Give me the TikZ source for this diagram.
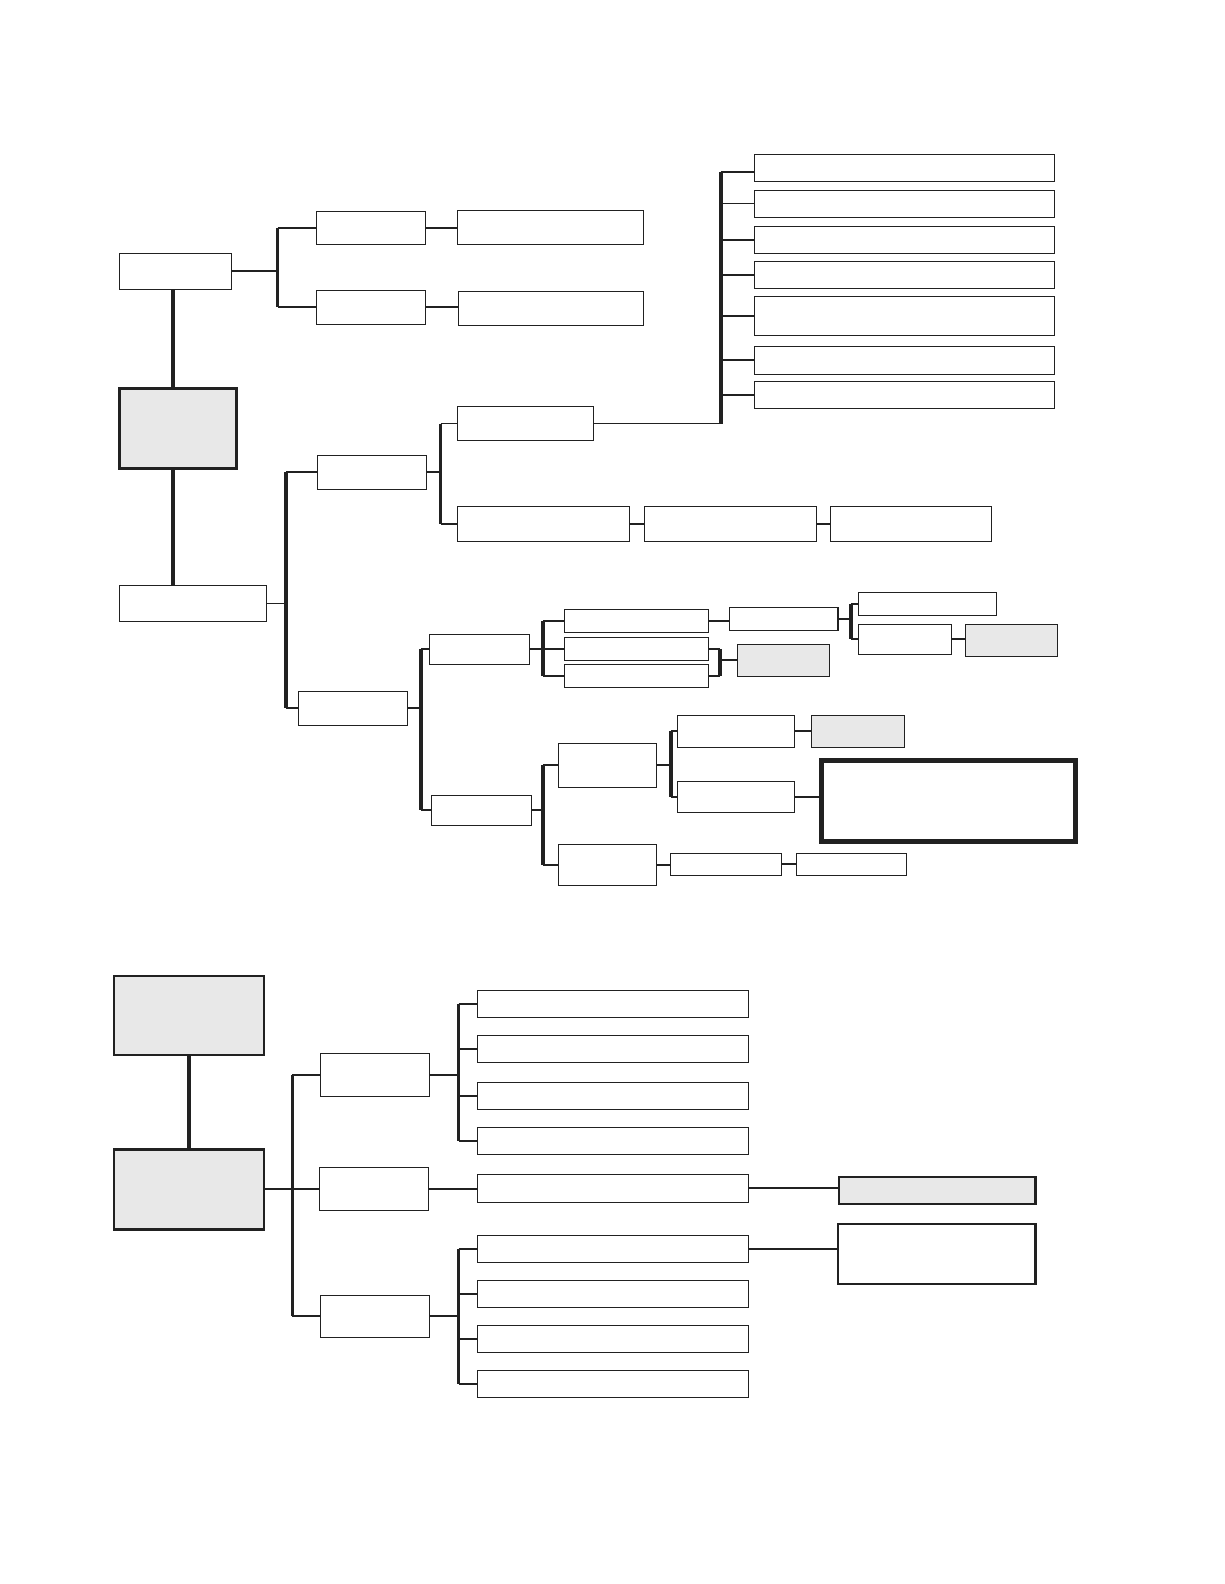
\documentclass[tikz,border=0pt]{standalone}
\usepackage{xcolor}
\usepackage{tikz}
\definecolor{chartink}{gray}{0.13}
\definecolor{chartshade}{gray}{0.91}
\tikzset{
  boxsize/.style 2 args={minimum width=#1pt, minimum height=#2pt},
  chartbox/.style={draw=chartink, fill=white, line width=1.1pt,
    inner sep=0pt},
  chartfill/.style={chartbox, fill=chartshade},
  chartkey/.style={chartbox, fill=chartshade, line width=2.8pt},
  chartframe/.style={chartbox, line width=2.4pt},
  chartlink/.style={draw=chartink, line width=1.8pt},
  chartspine/.style={draw=chartink, line width=3.6pt}
}
\begin{document}
\begin{tikzpicture}[x=1pt, y=-1pt]
  \useasboundingbox (0,0) rectangle (1224,1584);

  % upper chart
  \node[chartbox, boxsize={112}{36}] (A1) at (175.7,271.3) {};
  \node[chartkey, boxsize={117}{80}] (G1) at (178,428.4) {};
  \node[chartbox, boxsize={147}{36}] (A2) at (193,603.5) {};

  \node[chartbox, boxsize={109}{33}] (B1) at (371,227.6) {};
  \node[chartbox, boxsize={186}{34}] (C1) at (550.5,227.3) {};
  \node[chartbox, boxsize={109}{34}] (B2) at (371,307.3) {};
  \node[chartbox, boxsize={185}{34}] (C2) at (551,308.3) {};

  \node[chartbox, boxsize={109}{34}] (D1) at (372,472.3) {};
  \node[chartbox, boxsize={109.5}{34}] (D2) at (353,708.3) {};

  \node[chartbox, boxsize={136}{34}] (E1) at (525.5,423.5) {};
  \node[chartbox, boxsize={172}{35}] (E2) at (543.5,524) {};
  \node[chartbox, boxsize={172}{35}] (F8) at (730.5,524) {};
  \node[chartbox, boxsize={161}{35}] (F9) at (910.9,524) {};

  \node[chartbox, boxsize={300}{27}] (F1) at (904.3,167.8) {};
  \node[chartbox, boxsize={300}{27}] (F2) at (904.3,203.8) {};
  \node[chartbox, boxsize={300}{27}] (F3) at (904.3,239.8) {};
  \node[chartbox, boxsize={300}{27}] (F4) at (904.3,274.8) {};
  \node[chartbox, boxsize={300}{39}] (F5) at (904.3,315.8) {};
  \node[chartbox, boxsize={300}{28}] (F6) at (904.3,360.3) {};
  \node[chartbox, boxsize={300}{27}] (F7) at (904.3,394.7) {};

  \node[chartbox, boxsize={100.5}{30}] (H1) at (479.3,649.3) {};
  \node[chartbox, boxsize={100}{30}] (H2) at (481.3,810.3) {};

  \node[chartbox, boxsize={144}{23}] (I1) at (636.3,620.8) {};
  \node[chartbox, boxsize={144}{23}] (I2) at (636.3,648.8) {};
  \node[chartbox, boxsize={144}{23}] (I3) at (636.3,675.8) {};
  \node[chartbox, boxsize={108.4}{23}] (J1) at (783.8,618.8) {};
  \node[chartbox, boxsize={138}{23}] (K1) at (927.3,603.8) {};
  \node[chartbox, boxsize={93}{30}] (K2) at (905,639.3) {};
  \node[chartfill, boxsize={92}{32}] (L1) at (1011.5,640.3) {};
  \node[chartfill, boxsize={92}{32}] (M1) at (783.4,660.3) {};

  \node[chartbox, boxsize={98}{44}] (P1) at (607.3,765.3) {};
  \node[chartbox, boxsize={98}{41}] (P2) at (607.3,864.8) {};
  \node[chartbox, boxsize={117.5}{32}] (Q1) at (735.9,731.3) {};
  \node[chartbox, boxsize={117.5}{31}] (Q2) at (735.9,796.8) {};
  \node[chartfill, boxsize={93}{32}] (R1) at (857.7,731.3) {};
  \node[chartbox, line width=4.5pt, boxsize={253.7}{81}] (S1)
    at (948.4,801.2) {};
  \node[chartbox, boxsize={111}{22}] (T1) at (726.1,864.3) {};
  \node[chartbox, boxsize={110}{22}] (T2) at (851.5,864.3) {};

  \coordinate (trunk) at ([xshift=-2.5pt]A1.south);
  \draw[chartspine] (trunk) -- (trunk |- G1.north);
  \draw[chartspine] (trunk |- G1.south) -- (trunk |- A2.north);

  \coordinate (sa1) at (277.5,0);
  \draw[chartlink] (A1.east) -- (A1.east -| sa1);
  \draw[chartspine] (sa1 |- B1.west) -- (sa1 |- B2.west);
  \foreach \n in {B1,B2} \draw[chartlink] (sa1 |- \n.west) -- (\n.west);
  \draw[chartlink] (B1.east) -- (B1.east -| C1.west);
  \draw[chartlink] (B2.east) -- (B2.east -| C2.west);

  \coordinate (sa2) at (286,0);
  \draw[chartlink] (A2.east) -- (A2.east -| sa2);
  \draw[chartspine] (sa2 |- D1.west) -- (sa2 |- D2.west);
  \foreach \n in {D1,D2} \draw[chartlink] (sa2 |- \n.west) -- (\n.west);

  \coordinate (sd1) at (440.5,0);
  \draw[chartlink] (D1.east) -- (D1.east -| sd1);
  \draw[chartspine] (sd1 |- E1.west) -- (sd1 |- E2.west);
  \foreach \n in {E1,E2} \draw[chartlink] (sd1 |- \n.west) -- (\n.west);
  \draw[chartlink] (E2.east) -- (E2.east -| F8.west);
  \draw[chartlink] (F8.east) -- (F8.east -| F9.west);

  \coordinate (se1) at (720.7,0);
  \coordinate (f1in) at ([yshift=-4pt]F1.west);
  \draw[chartlink] (E1.east) -- (E1.east -| se1);
  \draw[chartspine] (se1 |- f1in) -- (se1 |- E1.east);
  \draw[chartlink] (se1 |- f1in) -- (f1in);
  \foreach \n in {F3,F4,F5,F6,F7}
    \draw[chartlink] (se1 |- \n.west) -- (\n.west);
  \draw[chartlink, line width=0.9pt] (se1 |- F2.west) -- (F2.west);

  \coordinate (sd2) at (421,0);
  \draw[chartlink] (D2.east) -- (D2.east -| sd2);
  \draw[chartspine] (sd2 |- H1.west) -- (sd2 |- H2.west);
  \foreach \n in {H1,H2} \draw[chartlink] (sd2 |- \n.west) -- (\n.west);

  \coordinate (sh1) at (543.1,0);
  \draw[chartlink] (H1.east) -- (H1.east -| sh1);
  \draw[chartspine] (sh1 |- I1.west) -- (sh1 |- I3.west);
  \foreach \n in {I1,I2,I3} \draw[chartlink] (sh1 |- \n.west) -- (\n.west);
  \draw[chartlink] (I1.east) -- (I1.east -| J1.west);

  \coordinate (sj1) at (851,0);
  \draw[chartlink] (J1.east) -- (J1.east -| sj1);
  \draw[chartspine] (sj1 |- K1.west) -- (sj1 |- K2.west);
  \foreach \n in {K1,K2} \draw[chartlink] (sj1 |- \n.west) -- (\n.west);
  \draw[chartlink] (K2.east) -- (K2.east -| L1.west);

  \coordinate (si2) at (720,0);
  \foreach \n in {I2,I3} \draw[chartlink] (\n.east) -- (\n.east -| si2);
  \draw[chartspine] (si2 |- I2.east) -- (si2 |- I3.east);
  \draw[chartlink] (si2 |- M1.west) -- (M1.west);

  \coordinate (sh2) at (543.1,0);
  \draw[chartlink] (H2.east) -- (H2.east -| sh2);
  \draw[chartspine] (sh2 |- P1.west) -- (sh2 |- P2.west);
  \foreach \n in {P1,P2} \draw[chartlink] (sh2 |- \n.west) -- (\n.west);

  \coordinate (sp1) at (671,0);
  \draw[chartlink] (P1.east) -- (P1.east -| sp1);
  \draw[chartspine] (sp1 |- Q1.west) -- (sp1 |- Q2.west);
  \foreach \n in {Q1,Q2} \draw[chartlink] (sp1 |- \n.west) -- (\n.west);
  \draw[chartlink] (Q1.east) -- (Q1.east -| R1.west);
  \draw[chartlink] (Q2.east) -- (Q2.east -| S1.west);
  \draw[chartlink] (P2.east) -- (P2.east -| T1.west);
  \draw[chartlink] (T1.east) -- (T1.east -| T2.west);

  % lower chart
  \node[chartkey, boxsize={150}{79}] (G2) at (189,1015.4) {};
  \node[chartkey, boxsize={150}{80}] (G3) at (189,1189.2) {};

  \node[chartbox, boxsize={109}{43}] (U1) at (375,1074.8) {};
  \node[chartbox, boxsize={109.4}{43}] (U2) at (374,1188.8) {};
  \node[chartbox, boxsize={109}{42}] (U3) at (375,1316.3) {};

  \node[chartbox, boxsize={270.7}{27}] (V1) at (612.8,1003.8) {};
  \node[chartbox, boxsize={270.7}{27}] (V2) at (612.8,1048.8) {};
  \node[chartbox, boxsize={270.7}{27}] (V3) at (612.8,1095.8) {};
  \node[chartbox, boxsize={270.7}{27}] (V4) at (612.8,1140.8) {};
  \node[chartbox, boxsize={270.7}{28}] (V5) at (612.8,1188.3) {};
  \node[chartbox, boxsize={270.7}{27}] (V6) at (612.8,1248.8) {};
  \node[chartbox, boxsize={270.7}{27}] (V7) at (612.8,1293.8) {};
  \node[chartbox, boxsize={270.7}{27}] (V8) at (612.8,1338.8) {};
  \node[chartbox, boxsize={270.7}{27}] (V9) at (612.8,1383.8) {};

  \node[chartframe, fill=chartshade, boxsize={196.6}{27.3}] (W1)
    at (937,1190.4) {};
  \node[chartframe, boxsize={197.6}{60}] (W2) at (936.5,1253.7) {};

  \draw[chartspine] (G2.south) -- (G3.north);

  \coordinate (sg3) at (292.3,0);
  \draw[chartlink] (G3.east) -- (G3.east -| sg3);
  \draw[chartspine] (sg3 |- U1.west) -- (sg3 |- U3.west);
  \foreach \n in {U1,U2,U3} \draw[chartlink] (sg3 |- \n.west) -- (\n.west);

  \coordinate (su1) at (458.6,0);
  \draw[chartlink] (U1.east) -- (U1.east -| su1);
  \draw[chartspine] (su1 |- V1.west) -- (su1 |- V4.west);
  \foreach \n in {V1,V2,V3,V4}
    \draw[chartlink] (su1 |- \n.west) -- (\n.west);

  \draw[chartlink] (U2.east) -- (U2.east -| V5.west);
  \draw[chartlink] (V5.east) -- (V5.east -| W1.west);

  \coordinate (su3) at (458.6,0);
  \draw[chartlink] (U3.east) -- (U3.east -| su3);
  \draw[chartspine] (su3 |- V6.west) -- (su3 |- V9.west);
  \foreach \n in {V6,V7,V8,V9}
    \draw[chartlink] (su3 |- \n.west) -- (\n.west);
  \draw[chartlink] (V6.east) -- (V6.east -| W2.west);
\end{tikzpicture}
\end{document}
